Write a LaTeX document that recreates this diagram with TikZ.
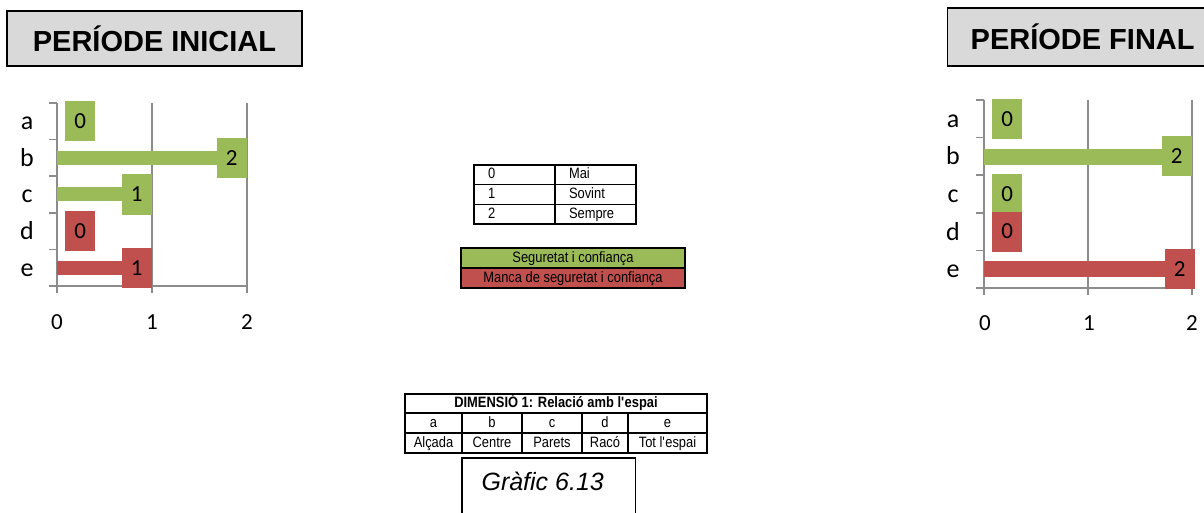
\documentclass[tikz,border=0pt]{standalone}
\usepackage{fontspec}
\setmainfont{Liberation Sans}
\newfontfamily\calfont{Carlito}
\newfontfamily\narrowfont[FakeStretch=0.86]{Liberation Sans}
\usetikzlibrary{positioning}

\definecolor{barGreen}{HTML}{9BBB59}
\definecolor{barRed}{HTML}{C0504D}
\definecolor{titleGray}{HTML}{D9D9D9}
\definecolor{gridGray}{HTML}{8C8C8C}

\begin{document}
\begin{tikzpicture}[x=1pt,y=-1pt,
  titlebox/.style={draw=black, line width=1.3pt, fill=titleGray, inner sep=0pt,
    font=\fontsize{29}{32}\selectfont\bfseries},
  gridline/.style={draw=gridGray, line width=1.7pt},
  catlabel/.style={font=\calfont\fontsize{26}{28}\selectfont, inner sep=0pt, anchor=base},
  ticklabel/.style={font=\calfont\fontsize{23}{25}\selectfont, inner sep=0pt},
  valbox/.style={font=\calfont\fontsize{23}{25}\selectfont, minimum width=30pt,
    minimum height=40pt, inner sep=0pt},
  cell/.style={draw=black, line width=1.6pt, outer sep=0pt, inner sep=0pt,
    text height=11pt, text depth=3pt, font=\narrowfont\fontsize{15}{16}\selectfont},
  numcell/.style={cell, minimum height=19.7pt, text width=53pt, inner xsep=14pt, align=left},
]
\useasboundingbox (0,0) rectangle (1204,513);

% titles
\node[titlebox, minimum width=295pt, minimum height=55pt] (iniTitle) at (154.5,38.5) {PERÍODE INICIAL};
\node[titlebox, minimum width=270pt, minimum height=58pt, anchor=west] (finTitle) at (947,37) {PERÍODE FINAL};

% initial period chart
\foreach \ty in {103,139.6,176.2,212.8,249.4,286}
  \draw[gridline] (49,\ty) -- (57,\ty);
\draw[gridline] (57,103) -- (57,293);
\draw[gridline] (152,103) -- (152,293);
\draw[gridline] (247,103) -- (247,293);
\draw[gridline] (57,286) -- (247,286);
\fill[barGreen] (57,151) rectangle (232,165);
\fill[barGreen] (57,187.5) rectangle (137,201.5);
\fill[barRed] (57,260.5) rectangle (137,274.5);
\node[valbox, fill=barGreen, anchor=west] (iniValA) at (65,121.3) {0};
\node[valbox, fill=barGreen, anchor=east] (iniValB) at (247,157.9) {2};
\node[valbox, fill=barGreen, anchor=east] (iniValC) at (152,194.5) {1};
\node[valbox, fill=barRed, anchor=west] (iniValD) at (65,231.1) {0};
\node[valbox, fill=barRed, anchor=east] (iniValE) at (152,267.7) {1};
\node[catlabel] (iniA) at (27,129.8) {a};
\node[catlabel] (iniB) at (27,166.4) {b};
\node[catlabel] (iniC) at (27,203) {c};
\node[catlabel] (iniD) at (27,239.6) {d};
\node[catlabel] (iniE) at (27,276.2) {e};
\node[ticklabel] (iniT0) at (57,322) {0};
\node[ticklabel] (iniT1) at (152,322) {1};
\node[ticklabel] (iniT2) at (247,322) {2};

% final period chart
\foreach \ty in {100,137.6,175.2,212.8,250.4,288}
  \draw[gridline] (976,\ty) -- (984,\ty);
\draw[gridline] (984,100) -- (984,295);
\draw[gridline] (1088,100) -- (1088,295);
\draw[gridline] (1192,100) -- (1192,295);
\draw[gridline] (984,288) -- (1192,288);
\fill[barGreen] (984,149) rectangle (1177,165);
\fill[barRed] (984,261) rectangle (1180,277);
\node[valbox, fill=barGreen, anchor=west] (finValA) at (992,118.8) {0};
\node[valbox, fill=barGreen, anchor=east] (finValB) at (1192,156.4) {2};
\node[valbox, fill=barGreen, anchor=west] (finValC) at (992,194) {0};
\node[valbox, fill=barRed, anchor=west] (finValD) at (992,231.6) {0};
\node[valbox, fill=barRed, anchor=east] (finValE) at (1195,269.2) {2};
\node[catlabel] (finA) at (953,127.3) {a};
\node[catlabel] (finB) at (953,164.9) {b};
\node[catlabel] (finC) at (953,202.5) {c};
\node[catlabel] (finD) at (953,240.1) {d};
\node[catlabel] (finE) at (953,277.7) {e};
\node[ticklabel] (finT0) at (985,323) {0};
\node[ticklabel] (finT1) at (1089,323) {1};
\node[ticklabel] (finT2) at (1192,323) {2};

% scale key
\node[numcell, anchor=north west] (key0) at (474,165) {0};
\node[numcell, right=0pt of key0] (keyMai) {Mai};
\node[numcell, below=0pt of key0] (key1) {1};
\node[numcell, right=0pt of key1] (keySovint) {Sovint};
\node[numcell, below=0pt of key1] (key2) {2};
\node[numcell, right=0pt of key2] (keySempre) {Sempre};

% colour key
\node[cell, fill=barGreen, minimum width=224pt, minimum height=20pt, anchor=north] (keySeg) at (573,248) {Seguretat i confiança};
\node[cell, fill=barRed, minimum width=224pt, minimum height=20pt, below=0pt of keySeg] (keyManca) {Manca de seguretat i confiança};

% dimension table
\node[cell, font=\narrowfont\bfseries\fontsize{15}{16}\selectfont, minimum width=302pt, minimum height=19pt, anchor=north west] (dimHead) at (405,394) {DIMENSIÓ 1: Relació amb l\textquotesingle espai};
\node[cell, minimum width=57pt, minimum height=20pt, anchor=north west] (dimA) at (dimHead.south west) {a};
\node[cell, minimum width=60pt, minimum height=20pt, right=0pt of dimA] (dimB) {b};
\node[cell, minimum width=60pt, minimum height=20pt, right=0pt of dimB] (dimC) {c};
\node[cell, minimum width=46pt, minimum height=20pt, right=0pt of dimC] (dimD) {d};
\node[cell, minimum width=79pt, minimum height=20pt, right=0pt of dimD] (dimE) {e};
\node[cell, minimum width=57pt, minimum height=20pt, below=0pt of dimA] (dimAlcada) {Alçada};
\node[cell, minimum width=60pt, minimum height=20pt, right=0pt of dimAlcada] (dimCentre) {Centre};
\node[cell, minimum width=60pt, minimum height=20pt, right=0pt of dimCentre] (dimParets) {Parets};
\node[cell, minimum width=46pt, minimum height=20pt, right=0pt of dimParets] (dimRaco) {Racó};
\node[cell, minimum width=79pt, minimum height=20pt, right=0pt of dimRaco] (dimTot) {Tot l\textquotesingle espai};

% figure number
\node[font=\itshape\fontsize{25}{28}\selectfont, minimum width=161pt, minimum height=46pt,
  inner sep=0pt, text height=18pt, text depth=0pt, anchor=north west] (grafic) at (462,458) {Gràfic 6.13};
\draw[line width=1.6pt] ([yshift=-20pt]grafic.south west) -- (grafic.north west)
  -- ([xshift=12pt]grafic.north east) -- ([xshift=12pt,yshift=-20pt]grafic.south east);
\end{tikzpicture}
\end{document}
